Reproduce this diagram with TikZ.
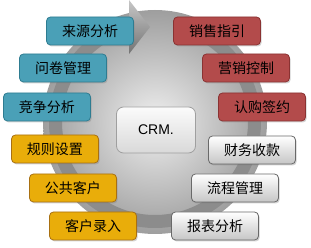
\documentclass[tikz,border=0pt]{standalone}
\usepackage{fontspec}
\setmainfont{Liberation Sans}
\newfontfamily\cjk{Noto Sans CJK SC}
\usetikzlibrary{shadows, calc}

\definecolor{tealfill}{RGB}{74,160,183}
\definecolor{tealline}{RGB}{46,124,145}
\definecolor{goldfill}{RGB}{233,173,10}
\definecolor{goldline}{RGB}{168,112,18}
\definecolor{redfill}{RGB}{179,75,75}
\definecolor{redline}{RGB}{138,50,50}
\definecolor{greyline}{RGB}{105,105,105}

\begin{document}
\begin{tikzpicture}[
      x=1pt, y=-1pt,
      box/.style={rectangle, draw, line width=0.8pt, rounded corners=4pt, minimum width=87pt, minimum height=28pt, inner sep=0pt, font=\fontsize{14}{16}\selectfont\cjk, text=black,
        drop shadow={shadow xshift=1.2pt, shadow yshift=-1.5pt, opacity=0.35}},
      tealbox/.style={box, fill=tealfill, draw=tealline},
      goldbox/.style={box, fill=goldfill, draw=goldline},
      redbox/.style={box, fill=redfill, draw=redline},
      greybox/.style={box, draw=greyline, top color=white, bottom color=gray!45},
      core/.style={rectangle, draw=gray!75, line width=0.8pt, rounded corners=7pt, minimum width=79pt, minimum height=46pt, top color=gray!3, bottom color=gray!30, font=\fontsize{14}{16}\selectfont},
      ring/.style={line width=13pt, draw=black!45}
    ]
    \useasboundingbox (0,0) rectangle (311,248);

    % background disc and cycle arrow
    \coordinate (c) at (155,122);
    \shade[inner color=black!6, outer color=black!38] (c) circle[radius=112];
    \draw[ring] ($(c)+(-60:99.5)$) arc[start angle=-60, end angle=254, radius=99.5];
    \shade[top color=black!22, bottom color=black!55] (129,0) -- (150,27) -- (129,54) -- cycle;

    % centre
    \node[core] (crm) at (156,130) {CRM.};

    % left side
    \node[tealbox] (source) at (90,31) {来源分析};
    \node[tealbox] (survey) at (63,68) {问卷管理};
    \node[tealbox] (rival) at (47,107) {竞争分析};
    \node[goldbox] (rules) at (55,149) {规则设置};
    \node[goldbox] (pool) at (73,188) {公共客户};
    \node[goldbox] (entry) at (93,226) {客户录入};

    % right side
    \node[redbox] (guide) at (217,31) {销售指引};
    \node[redbox] (market) at (246,68) {营销控制};
    \node[redbox] (sign) at (262,107) {认购签约};
    \node[greybox] (finance) at (252,150) {财务收款};
    \node[greybox] (process) at (235,188) {流程管理};
    \node[greybox] (report) at (215,226) {报表分析};
  \end{tikzpicture}
\end{document}
